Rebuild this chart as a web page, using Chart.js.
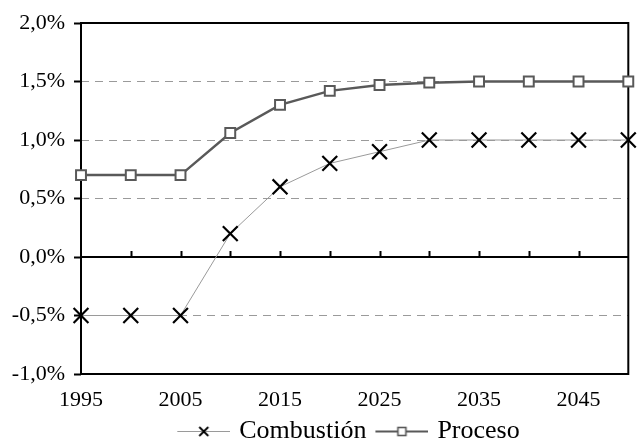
<!DOCTYPE html>
<html>
<head>
<meta charset="utf-8">
<script src="https://cdn.jsdelivr.net/npm/chart.js@4/dist/chart.umd.min.js"></script>
<style>
  html, body { margin: 0; padding: 0; background: #fff; }
  #wrap { width: 641px; height: 447px; position: relative; }
</style>
</head>
<body>
<div id="wrap"><canvas id="c"></canvas></div>
<script>
// Years of the projection (every 5 years)
const years = [1995, 2000, 2005, 2010, 2015, 2020, 2025, 2030, 2035, 2040, 2045, 2050];
// Annual rate, in percent
const combustion = [-0.5, -0.5, -0.5, 0.2, 0.6, 0.8, 0.9, 1.0, 1.0, 1.0, 1.0, 1.0];
const proceso = [0.7, 0.7, 0.7, 1.06, 1.3, 1.42, 1.47, 1.49, 1.5, 1.5, 1.5, 1.5];
// Labelled years on the horizontal axis
const yearLabels = [1995, 2005, 2015, 2025, 2035, 2045];
const seriesNames = ['Combustión', 'Proceso'];

const SERIF = "'Liberation Serif', 'Times New Roman', serif";
const COMB_LINE = '#9a9a9a';
const PROC_LINE = '#595959';

// Legend swatches: a short line with the series marker on it.
// The image is a little wider than the legend box so the text sits close to it.
const SW_W = 62, SW_H = 14, BOX_W = 54;
function swatch(kind) {
  const c = document.createElement('canvas');
  c.width = SW_W; c.height = SW_H;
  const g = c.getContext('2d');
  const cy = 7.5, x0 = 9, x1 = SW_W, mid = (x0 + x1) / 2;
  if (kind === 'comb') {
    g.strokeStyle = COMB_LINE; g.lineWidth = 1;
    g.beginPath(); g.moveTo(x0, cy); g.lineTo(x1, cy); g.stroke();
    g.strokeStyle = '#000'; g.lineWidth = 1.8;
    const r = 4.5;
    g.beginPath();
    g.moveTo(mid - r, cy - r); g.lineTo(mid + r, cy + r);
    g.moveTo(mid + r, cy - r); g.lineTo(mid - r, cy + r);
    g.stroke();
  } else {
    g.strokeStyle = PROC_LINE; g.lineWidth = 2;
    g.beginPath(); g.moveTo(x0, cy); g.lineTo(x1, cy); g.stroke();
    g.fillStyle = '#fff'; g.lineWidth = 1.6;
    g.fillRect(mid - 4, cy - 4, 8, 8);
    g.strokeRect(mid - 4, cy - 4, 8, 8);
  }
  return c;
}
const swatches = [swatch('comb'), swatch('proc')];

// Frame, zero line with its upward tick marks
const framePlugin = {
  id: 'frame',
  afterLayout(chart) {
    // move the legend row a little to the right
    const l = chart.legend;
    if (l) { l.left += 30; l.right += 30; }
  },
  beforeDatasetsDraw(chart) {
    const { ctx, chartArea: a, scales } = chart;
    const y0 = scales.y.getPixelForValue(0);
    ctx.save();
    ctx.strokeStyle = '#000';
    ctx.lineWidth = 2;
    ctx.strokeRect(a.left, a.top, a.right - a.left, a.bottom - a.top);
    ctx.beginPath();
    ctx.moveTo(a.left, y0); ctx.lineTo(a.right, y0);
    scales.x.ticks.forEach(t => {
      if (t.value > years[0] && t.value < years[years.length - 1]) {
        const px = Math.round(scales.x.getPixelForValue(t.value)) + 0.5;
        ctx.moveTo(px, y0); ctx.lineTo(px, y0 - 6);
      }
    });
    ctx.stroke();
    ctx.restore();
  }
};

new Chart(document.getElementById('c'), {
  type: 'line',
  data: {
    datasets: [
      {
        label: seriesNames[0],
        data: years.map((x, i) => ({ x, y: combustion[i] })),
        borderColor: COMB_LINE,
        borderWidth: 1,
        pointStyle: 'crossRot',
        pointRadius: 10.5,
        pointBorderColor: '#000',
        pointBorderWidth: 2.2,
        pointHoverRadius: 10.5,
        tension: 0,
        clip: false
      },
      {
        label: seriesNames[1],
        data: years.map((x, i) => ({ x, y: proceso[i] })),
        borderColor: PROC_LINE,
        borderWidth: 2.5,
        pointStyle: 'rect',
        pointRadius: 7,
        pointBackgroundColor: '#fff',
        pointBorderColor: PROC_LINE,
        pointBorderWidth: 2,
        pointHoverRadius: 7,
        tension: 0,
        clip: false
      }
    ]
  },
  options: {
    responsive: true,
    maintainAspectRatio: false,
    animation: false,
    events: [],
    layout: { padding: { top: 23, right: 9, left: 0, bottom: 0 } },
    scales: {
      x: {
        type: 'linear',
        min: years[0],
        max: years[years.length - 1],
        afterFit(s) { s.height = 40; },
        afterBuildTicks(s) {
          s.ticks = years.map(v => ({ value: v }));
        },
        ticks: {
          autoSkip: false,
          maxRotation: 0,
          padding: 5,
          color: '#000',
          font: { family: SERIF, size: 22 },
          callback: v => (yearLabels.includes(v) ? String(v) : '')
        },
        grid: { display: false },
        border: { display: false }
      },
      y: {
        min: -1,
        max: 2,
        afterFit(s) { s.width = 81; },
        ticks: {
          stepSize: 0.5,
          padding: 9,
          color: '#000',
          font: { family: SERIF, size: 22 },
          callback: v => v.toFixed(1).replace('.', ',') + '%'
        },
        grid: {
          drawTicks: true,
          tickLength: 7,
          tickColor: '#000',
          tickWidth: 2,
          lineWidth: 1,
          color: ctx => {
            const v = ctx.tick ? ctx.tick.value : null;
            return (v === 0 || v === 2 || v === -1) ? 'rgba(0,0,0,0)' : '#9a9a9a';
          }
        },
        border: { display: false, dash: [8, 6] }
      }
    },
    plugins: {
      tooltip: { enabled: false },
      legend: {
        position: 'bottom',
        maxHeight: 33,
        labels: {
          usePointStyle: true,
          pointStyleWidth: BOX_W,
          padding: 4,
          color: '#000',
          font: { family: SERIF, size: 26 },
          generateLabels: chart => chart.data.datasets.map((d, i) => ({
            text: d.label,
            pointStyle: swatches[i],
            fillStyle: '#fff',
            strokeStyle: '#000',
            lineWidth: 0,
            hidden: false,
            datasetIndex: i
          }))
        }
      }
    }
  },
  plugins: [framePlugin]
});
</script>
</body>
</html>
